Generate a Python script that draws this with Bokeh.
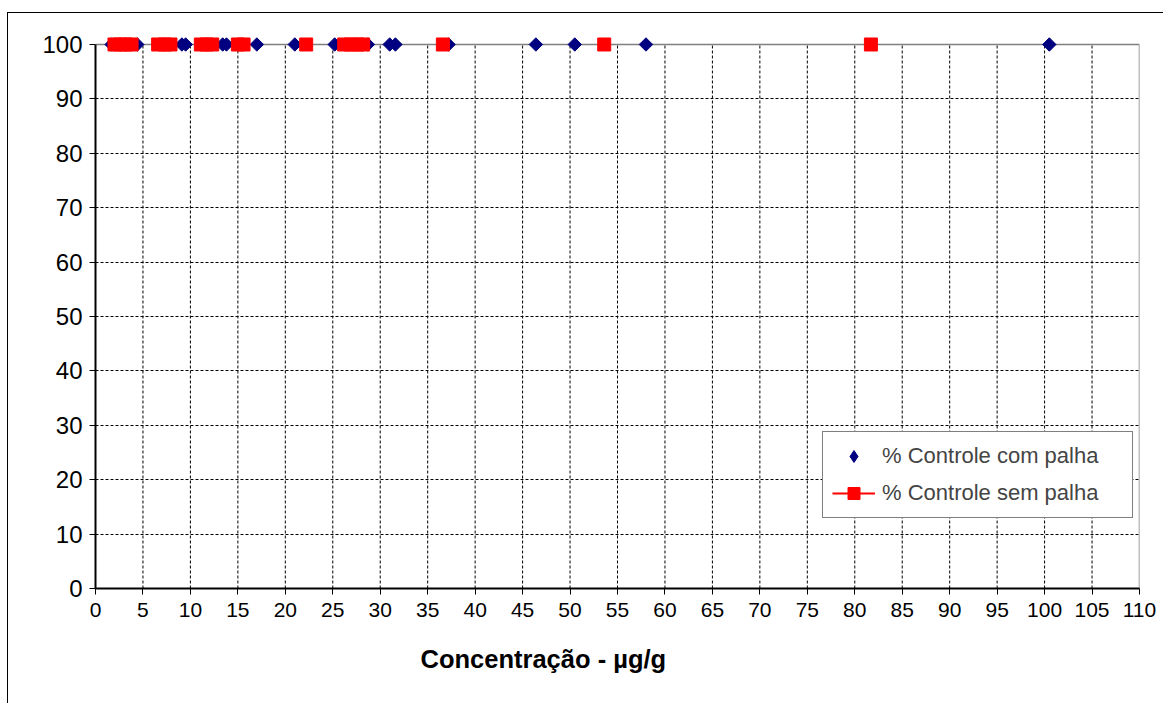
import numpy as np
from bokeh.plotting import figure
from bokeh.layouts import column, row
from bokeh.models import Range1d, FixedTicker, Legend, LegendItem, Title, ColumnDataSource, Spacer
from bokeh.embed import file_html
from bokeh.resources import INLINE

# data
com_palha_x = [1.7, 4.4, 9.1, 9.5, 13.4, 13.8, 17.0, 21.0, 25.2, 28.7, 31.0, 31.6,
               37.2, 46.4, 50.5, 58.0, 100.5]
com_palha_y = [100] * len(com_palha_x)
sem_palha_x = [2.0, 2.6, 3.2, 3.8, 6.6, 7.3, 7.9, 11.1, 11.7, 12.3, 15.0, 15.6,
               22.2, 26.2, 26.9, 27.6, 28.2, 36.6, 53.6, 81.7]
sem_palha_y = [100] * len(sem_palha_x)
x_ticks = list(range(0, 111, 5))
y_ticks = list(range(0, 101, 10))
series_names = ["% Controle com palha", "% Controle sem palha"]
x_title = "Concentração - µg/g"

FONT = "Liberation Sans"
Y_TOP = 102.94  # small headroom so markers at 100 are not clipped

p = figure(width=1155, height=690, output_backend="svg", toolbar_location=None,
           x_range=Range1d(0, 110), y_range=Range1d(0, Y_TOP),
           min_border_left=87, min_border_right=24, min_border_top=15, min_border_bottom=115)
p.outline_line_color = None
p.border_fill_alpha = 0
p.background_fill_color = "white"

for ax in (p.xaxis[0], p.yaxis[0]):
    ax.axis_line_color = "black"
    ax.axis_line_width = 2
    ax.major_tick_line_color = "black"
    ax.major_tick_in = 0
    ax.major_tick_out = 6
    ax.minor_tick_line_color = None
    ax.major_label_text_font = FONT
    ax.major_label_text_color = "black"

p.xaxis.major_label_text_font_size = "21px"
p.yaxis.major_label_text_font_size = "24px"
p.xaxis.ticker = FixedTicker(ticks=x_ticks)
p.yaxis.ticker = FixedTicker(ticks=y_ticks)
p.yaxis.bounds = (y_ticks[0], y_ticks[-1])
p.xaxis.major_label_standoff = 8
p.yaxis.major_label_standoff = 7

p.xgrid.visible = False
p.ygrid.ticker = FixedTicker(ticks=y_ticks[1:-1])
p.ygrid.grid_line_color = "black"
p.ygrid.grid_line_dash = "3 2"
p.ygrid.grid_line_width = 1

inner_x = x_ticks[1:-1]
p.segment(x0=inner_x, y0=[y_ticks[0]] * len(inner_x), x1=inner_x, y1=[y_ticks[-1]] * len(inner_x),
          line_color="black", line_dash="3 2", line_width=1)
# plot-area border (top and right), grey
p.segment(x0=[x_ticks[0], x_ticks[-1]], y0=[y_ticks[-1], y_ticks[0]],
          x1=[x_ticks[-1], x_ticks[-1]], y1=[y_ticks[-1], y_ticks[-1]],
          line_color="#808080", line_width=1.5)

src_com = ColumnDataSource(dict(x=com_palha_x, y=com_palha_y))
src_sem = ColumnDataSource(dict(x=sem_palha_x, y=sem_palha_y))

r_com = p.scatter("x", "y", source=src_com, marker="square", angle=np.pi / 4, size=9.5,
                  fill_color="#000080", line_color="#000080")
r_sem = p.scatter("x", "y", source=src_sem, marker="square", size=13,
                  fill_color="#FF0000", line_color="#FF0000")
# legend-only glyphs (no data)
r_com_key = p.scatter(x=[np.nan], y=[np.nan], marker="diamond",
                      fill_color="#000080", line_color="#000080")
r_sem_line = p.line(x=[np.nan], y=[np.nan], line_color="#FF0000", line_width=2)

legend = Legend(items=[LegendItem(label=series_names[0], renderers=[r_com_key]),
                       LegendItem(label=series_names[1], renderers=[r_sem_line, r_sem])],
                location=(727, 70))
legend.label_text_font = FONT
legend.label_text_font_size = "22px"
legend.label_standoff = 7
legend.label_width = 241
legend.glyph_width = 43
legend.glyph_height = 30
legend.spacing = 7
legend.padding = 9
legend.margin = 0
legend.border_line_color = "black"
legend.border_line_width = 1
legend.background_fill_color = "white"
legend.background_fill_alpha = 1
p.add_layout(legend, "center")

p.add_layout(Title(text=x_title, align="left", offset=325, standoff=46,
                   text_font=FONT, text_font_size="25.5px", text_font_style="bold",
                   text_color="black"), "below")

top_rule = Spacer(width=1156, height=1, styles={"background-color": "black"})
left_rule = Spacer(width=1, height=690, styles={"background-color": "black"})
layout = column(top_rule, row(left_rule, p, spacing=0), spacing=0,
                styles={"margin-left": "7px", "margin-top": "12px"})

open("out.html", "w").write(file_html(layout, INLINE))
